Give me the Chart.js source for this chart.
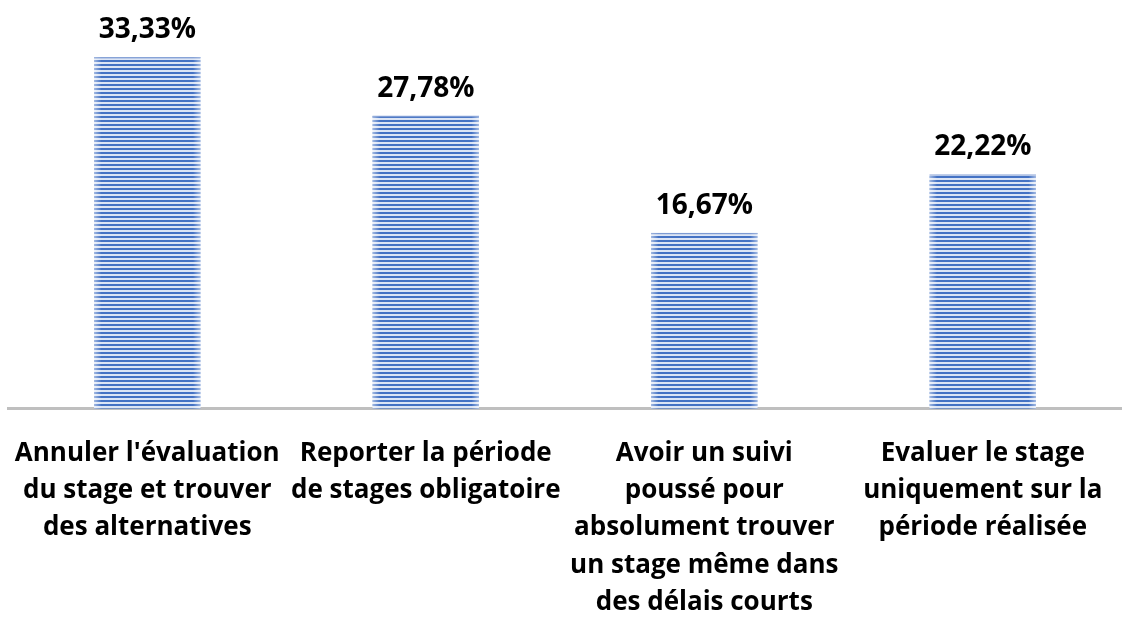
<!DOCTYPE html>
<html lang="fr">
<head>
<meta charset="utf-8">
<title>Répartition des réponses</title>
<script src="https://cdn.jsdelivr.net/npm/chart.js@4"></script>
<style>
  html, body { margin: 0; padding: 0; background: #ffffff; }
  #wrap { width: 1122px; height: 620px; }
</style>
</head>
<body>
<div id="wrap"><canvas id="chart" width="1122" height="620"></canvas></div>
<script>
// Catégories (libellés sur plusieurs lignes) et pourcentages
const categories = [
  ["Annuler l'évaluation", "du stage et trouver", "des alternatives"],
  ["Reporter la période", "de stages obligatoire"],
  ["Avoir un suivi", "poussé pour", "absolument trouver", "un stage même dans", "des délais courts"],
  ["Evaluer le stage", "uniquement sur la", "période réalisée"]
];
const percentages = [33.33, 27.78, 16.67, 22.22];

const FONT = "'Open Sans', 'DejaVu Sans', sans-serif";

// Motif à rayures horizontales pour le remplissage des barres
function stripePattern() {
  const c = document.createElement('canvas');
  c.width = 4; c.height = 4;
  const g = c.getContext('2d');
  g.fillStyle = '#dce5f5';
  g.fillRect(0, 0, 4, 4);
  g.fillStyle = '#4472c4';
  g.fillRect(0, 0, 4, 2);
  return g.createPattern(c, 'repeat');
}

const ctx = document.getElementById('chart').getContext('2d');

// Léger dégradé clair sur les bords gauche/droit de chaque barre
const barShading = {
  id: 'barShading',
  afterDatasetsDraw(chart) {
    const c = chart.ctx;
    chart.getDatasetMeta(0).data.forEach(bar => {
      const left = bar.x - bar.width / 2, right = bar.x + bar.width / 2;
      const grad = c.createLinearGradient(left, 0, right, 0);
      grad.addColorStop(0, 'rgba(255,255,255,0.5)');
      grad.addColorStop(0.07, 'rgba(255,255,255,0)');
      grad.addColorStop(0.93, 'rgba(255,255,255,0)');
      grad.addColorStop(1, 'rgba(255,255,255,0.5)');
      c.save();
      c.fillStyle = grad;
      c.fillRect(left, bar.y, bar.width, bar.base - bar.y);
      c.fillStyle = 'rgba(150,172,218,0.7)';
      c.fillRect(left, bar.y, bar.width, 1.5);
      c.restore();
    });
  }
};

// Étiquettes de valeur au-dessus des barres
const valueLabels = {
  id: 'valueLabels',
  afterDatasetsDraw(chart) {
    const c = chart.ctx;
    const ds = chart.data.datasets[0];
    c.save();
    c.font = "bold 28px " + FONT;
    c.fillStyle = '#000000';
    c.textAlign = 'center';
    c.textBaseline = 'alphabetic';
    chart.getDatasetMeta(0).data.forEach((bar, i) => {
      const txt = ds.data[i].toFixed(2).replace('.', ',') + '%';
      c.fillText(txt, bar.x, bar.y - 19);
    });
    c.restore();
  }
};

new Chart(ctx, {
  type: 'bar',
  data: {
    labels: categories,
    datasets: [{
      data: percentages,
      backgroundColor: stripePattern(),
      borderWidth: 0,
      barPercentage: 0.382,
      categoryPercentage: 1.0
    }]
  },
  options: {
    responsive: false,
    animation: false,
    devicePixelRatio: 1,
    layout: { padding: { top: 0, left: 8, right: -6, bottom: -27 } },
    plugins: {
      legend: { display: false },
      tooltip: { enabled: false },
      title: { display: false }
    },
    scales: {
      x: {
        // les libellés larges peuvent déborder sur les bords : pas de marge supplémentaire
        afterFit(scale) {
          scale.paddingLeft = 0;
          scale.paddingRight = 0;
        },
        grid: { display: false, drawTicks: false },
        border: { display: true, color: '#bfbfbf', width: 3 },
        ticks: {
          autoSkip: false,
          maxRotation: 0,
          minRotation: 0,
          padding: 26,
          color: '#000000',
          font: { family: FONT, size: 26, weight: 'bold', lineHeight: 1.433 }
        }
      },
      y: {
        display: false,
        min: 0,
        max: 38.75,
        grid: { display: false }
      }
    }
  },
  plugins: [barShading, valueLabels]
});
</script>
</body>
</html>
